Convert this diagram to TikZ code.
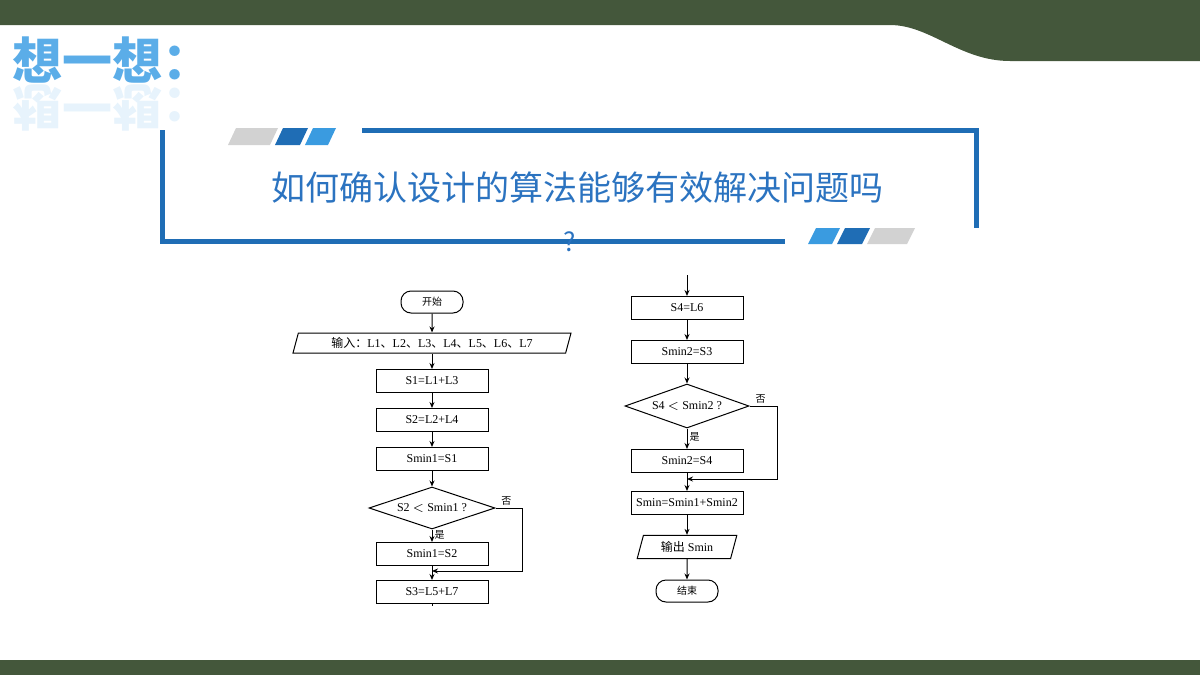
\documentclass[tikz,border=0pt]{standalone}
\usepackage{fontspec}
\setmainfont{Liberation Serif}
\newfontfamily\cjk{Noto Sans CJK SC}
\usetikzlibrary{arrows.meta, positioning, shapes.geometric}
\definecolor{barGreen}{HTML}{44573B}
\definecolor{frameBlue}{HTML}{1F6DB5}
\definecolor{lightBlue}{HTML}{3A9BE0}
\definecolor{titleBlue}{HTML}{2B73C0}
\definecolor{headBlue}{HTML}{5BADE8}

\begin{document}
\begin{tikzpicture}[
      x=0.5pt, y=-0.5pt,
      box/.style={rectangle, draw, line width=0.5pt, minimum width=56pt,
                  minimum height=11.5pt, inner sep=0pt, font=\fontsize{6}{7}\selectfont},
      term/.style={rectangle, rounded corners=5pt, draw, line width=0.5pt,
                  minimum width=31pt, minimum height=11pt, inner sep=0pt,
                  font=\cjk\fontsize{5}{6}\selectfont},
      io/.style={trapezium, trapezium left angle=75, trapezium right angle=105,
                  draw, line width=0.5pt, minimum height=10pt, inner sep=1pt,
                  font=\fontsize{6}{7}\selectfont},
      cond/.style={diamond, draw, line width=0.5pt, aspect=3.2, inner sep=0pt,
                  minimum width=63pt, minimum height=21pt, font=\fontsize{6}{7}\selectfont},
      arrow/.style={-{Stealth[length=3pt, width=2.5pt]}, line width=0.5pt},
      lbl/.style={font=\cjk\fontsize{5}{6}\selectfont, inner sep=1pt}
    ]
        \useasboundingbox (0,0) rectangle (1200,675);
        % slide background
        \fill[barGreen] (0,0) -- (1200,0) -- (1200,61) -- (1010,61)
            .. controls (960,61) and (930,25) .. (890,25) -- (0,25) -- cycle;
        \fill[barGreen] (0,660) rectangle (1200,675);
        \node[font=\cjk\bfseries\fontsize{25}{28}\selectfont, text=headBlue, anchor=west] (head) at (5,60) {想一想：};
        \node[font=\cjk\bfseries\fontsize{25}{28}\selectfont, text=headBlue, anchor=west,
              yscale=-1, opacity=0.15] (headmirror) at (5,108) {想一想：};
        % banner
        \draw[frameBlue, line width=2.5pt] (362,130) -- (976,130) -- (976,228);
        \draw[frameBlue, line width=2.5pt] (162,130) -- (162,241) -- (785,241);
        \fill[gray!35] (236,128) -- (278,128) -- (270,145) -- (228,145) -- cycle;
        \fill[frameBlue] (283,128) -- (308,128) -- (300,145) -- (275,145) -- cycle;
        \fill[lightBlue] (313,128) -- (336,128) -- (328,145) -- (305,145) -- cycle;
        \fill[lightBlue] (816,228) -- (840,228) -- (832,244) -- (808,244) -- cycle;
        \fill[frameBlue] (845,228) -- (870,228) -- (862,244) -- (837,244) -- cycle;
        \fill[gray!35] (875,228) -- (915,228) -- (907,244) -- (867,244) -- cycle;
        \node[font=\cjk\fontsize{17}{20}\selectfont, text=titleBlue] (title) at (577,188) {如何确认设计的算法能够有效解决问题吗};
        \node[font=\cjk\fontsize{13}{15}\selectfont, text=titleBlue] (qmark) at (570,242) {?};
        % left flowchart
        \node[term] (start) at (432,302) {开始};
        \node[io, minimum width=96pt, inner xsep=0pt] (input) at (432,343) {{\cjk 输入：}L1{\cjk 、}L2{\cjk 、}L3{\cjk 、}L4{\cjk 、}L5{\cjk 、}L6{\cjk 、}L7};
        \node[box] (s1) at (432,381) {S1=L1+L3};
        \node[box] (s2) at (432,420) {S2=L2+L4};
        \node[box] (m1) at (432,459) {Smin1=S1};
        \node[cond] (d1) at (432,508) {S2 $<$ Smin1 ?};
        \node[box] (m1b) at (432,554) {Smin1=S2};
        \node[box] (s3) at (432,592) {S3=L5+L7};
        \coordinate (j1) at (432,571);
        \coordinate (outl) at (432,606);
        \draw[arrow] (start) -- (input);
        \draw[arrow] (input) -- (s1);
        \draw[arrow] (s1) -- (s2);
        \draw[arrow] (s2) -- (m1);
        \draw[arrow] (m1) -- (d1);
        \draw[arrow] (d1) -- node[lbl, right, pos=0.4]{是} (m1b);
        \draw[arrow] (m1b) -- (s3);
        \draw[arrow] (d1.east) -- ++(27,0) node[lbl, above, pos=0.4]{否} |- (j1);
        \draw[line width=0.5pt] (s3) -- (outl);
        % right flowchart
        \coordinate (inr) at (687,275);
        \node[box] (s4) at (687,308) {S4=L6};
        \node[box] (m2) at (687,352) {Smin2=S3};
        \node[cond, minimum width=62pt, minimum height=22pt] (d2) at (687,406) {S4 $<$ Smin2 ?};
        \node[box] (m2b) at (687,461) {Smin2=S4};
        \node[box] (sm) at (687,503) {Smin=Smin1+Smin2};
        \node[io, minimum width=50pt] (outp) at (687,547) {{\cjk 输出} Smin};
        \node[term] (stop) at (687,591) {结束};
        \coordinate (j2) at (687,479);
        \draw[arrow] (inr) -- (s4);
        \draw[arrow] (s4) -- (m2);
        \draw[arrow] (m2) -- (d2);
        \draw[arrow] (d2) -- node[lbl, right, pos=0.4]{是} (m2b);
        \draw[arrow] (m2b) -- (sm);
        \draw[arrow] (d2.east) -- ++(28,0) node[lbl, above, pos=0.4]{否} |- (j2);
        \draw[arrow] (sm) -- (outp);
        \draw[arrow] (outp) -- (stop);
\end{tikzpicture}
\end{document}
